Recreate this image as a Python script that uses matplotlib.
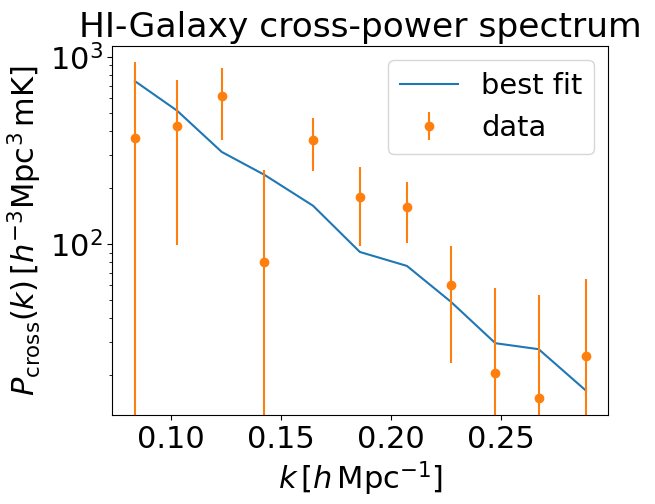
import numpy as np
import matplotlib
matplotlib.use('Agg')
import matplotlib.pyplot as plt

# k bins [h/Mpc]
k = [0.0837, 0.1029, 0.1232, 0.1426, 0.1647, 0.1860, 0.2074, 0.2273, 0.2476, 0.2673, 0.2887]
# measured cross power and symmetric errors
p_data = [366, 425, 615, 80, 358, 178, 158, 60.2, 20.4, 15.0, 25.2]
p_err = [571, 326, 254, 168, 114, 80, 57, 37, 38, 38.5, 40]
# best fit model
p_fit = [741, 515, 310, 234, 160, 90.6, 76.3, 49.2, 29.5, 27.4, 16.5]

plt.rcParams['font.size'] = 22

fig, ax = plt.subplots(figsize=(6.55, 5.04), dpi=100)
fig.subplots_adjust(left=0.1715, right=0.9287, top=0.9093, bottom=0.1766)

ax.plot(k, p_fit, label='best fit')
ax.errorbar(k, p_data, yerr=p_err, fmt='o', label='data')
ax.set_yscale('log')
ax.set_ylim(12.2, 1145)

ax.set_title('HI-Galaxy cross-power spectrum', fontsize=24.8)
ax.set_xlabel(r'$k\,[h\,{\rm Mpc}^{-1}]$')
ax.set_ylabel(r'$P_{\rm cross}(k)\,[h^{-3}{\rm Mpc}^3\,{\rm mK}]$')
ax.legend(loc='upper right', fontsize=20.8)

plt.savefig('out.png')
